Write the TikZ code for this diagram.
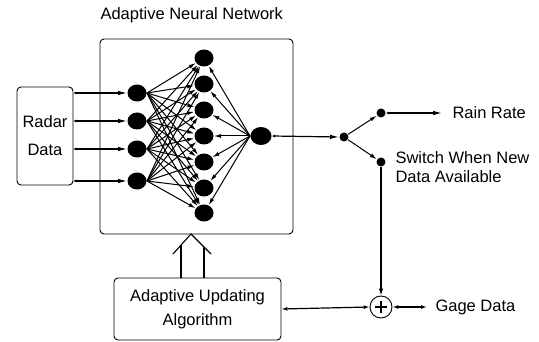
\documentclass[tikz,border=0pt]{standalone}
\usepackage{fontspec}
\setmainfont{Liberation Sans}
\usetikzlibrary{arrows.meta,calc,shapes.geometric}
\begin{document}
\begin{tikzpicture}[x=1pt,y=-1pt, line width=1pt,
 neuron/.style={ellipse, fill=black, minimum width=19pt, minimum height=17pt, inner sep=0pt},
 dotn/.style={circle, fill=black, minimum size=9pt, inner sep=0pt},
 box/.style={draw, rounded corners=4pt, line width=0.9pt},
 lbl/.style={font=\fontsize{16.5}{19}\selectfont, inner sep=0pt},
 wire/.style={line width=1.2pt, {Latex[length=3pt,width=3pt]}-{Latex[length=9pt,width=4.5pt]}},
 both/.style={line width=1.2pt, {Latex[length=6pt,width=4pt]}-{Latex[length=6pt,width=4pt]}},
 syn/.style={line width=1pt, -{Latex[length=7pt,width=4pt]}},
 one/.style={line width=1.2pt, -{Latex[length=7pt,width=4.5pt]}},
]
\useasboundingbox (0,0) rectangle (539,342);
% boxes
\node[box, minimum width=193pt, minimum height=195pt] (net) at (196.5,136.5) {};
\node[lbl, anchor=west] (title) at (100,15) {Adaptive Neural Network};
\node[box, minimum width=56pt, minimum height=98pt, align=center, font=\fontsize{16.5}{28}\selectfont] (radar) at (45,136) {Radar\\Data};
% neurons
\foreach \y [count=\i] in {93,121,149,181} \node[neuron] (i\i) at (137,\y) {};
\foreach \y [count=\i] in {58,84,110,136,162,188,213} \node[neuron] (h\i) at (204,\y) {};
\node[neuron, minimum width=21pt, minimum height=18pt] (o) at (261,136) {};
% radar inputs
\foreach \i in {1,...,4} \draw[wire] (radar.east |- i\i) -- (i\i.west);
% synapses
\foreach \i in {1,...,4} \foreach \j in {1,...,7} \draw[syn] (i\i.east) -- (h\j);
\foreach \j in {1,...,7} \draw[syn] (o.west) -- (h\j);
% output
\node[dotn] (j) at (344,137) {};
\draw[wire] (o.east) -- (j.west);
\node[dotn] (r) at (381,113) {};
\node[dotn] (s) at (381,162) {};
\draw[syn] (j) -- (r);
\draw[syn] (j) -- (s);
\coordinate (rr) at (442,113);
\draw[wire] (r.east) -- (rr);
\node[lbl, anchor=west] (rain) at (452,113) {Rain Rate};
\node[lbl, anchor=west, align=left] (switch) at (395,167.5) {Switch When New\\Data Available};
% plus
\node[circle, draw, minimum size=22pt, inner sep=0pt, line width=0.9pt] (plus) at (381,307) {};
\draw[line width=1.1pt] ($(plus.center)+(-6,0)$) -- ++(12,0);
\draw[line width=1.1pt] ($(plus.center)+(0,-6)$) -- ++(0,12);
\draw[one] (s) -- (plus.north);
\coordinate (g) at (427,307);
\draw[both] (g) -- (plus.east);
\node[lbl, anchor=west] (gage) at (435,307) {Gage Data};
% algorithm
\node[box, minimum width=167pt, minimum height=62pt, align=center, font=\fontsize{16.5}{24}\selectfont] (alg) at (197.5,309) {Adaptive Updating\\Algorithm};
\draw[both] (alg.east) -- (plus.west);
% hollow arrow
\coordinate (apex) at (191,234);
\draw[line width=1.1pt] (alg.north -| 181,0) -- (181,245.1);
\draw[line width=1.1pt] (alg.north -| 204,0) -- (204,247);
\draw[line width=1.1pt, line join=miter] (173,254) -- (apex) -- (211,254);
\end{tikzpicture}
\end{document}
